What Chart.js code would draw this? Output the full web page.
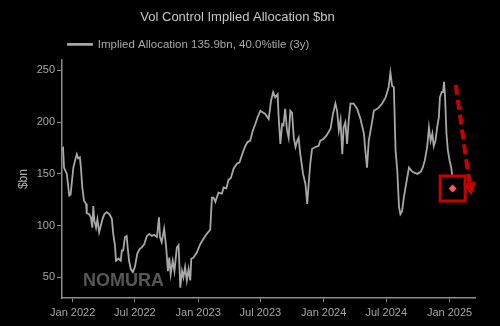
<!DOCTYPE html>
<html>
<head>
<meta charset="utf-8">
<script src="https://cdn.jsdelivr.net/npm/chart.js@4.4.1/dist/chart.umd.min.js"></script>
<style>
  html, body { margin: 0; padding: 0; background: #000; }
  #wrap { width: 500px; height: 326px; }
</style>
</head>
<body>
<div id="wrap"><canvas id="vol-control"></canvas></div>
<script>
const dates = [
  '2021-12-01','2021-12-04','2021-12-07','2021-12-15','2021-12-22','2021-12-26','2022-01-03','2022-01-08',
  '2022-01-13','2022-01-17','2022-01-22','2022-01-25','2022-01-29','2022-02-03','2022-02-09','2022-02-11',
  '2022-02-18','2022-02-23','2022-02-27','2022-03-02','2022-03-05','2022-03-10','2022-03-14','2022-03-19',
  '2022-03-24','2022-03-29','2022-04-03','2022-04-10','2022-04-18','2022-04-25','2022-04-29','2022-05-04',
  '2022-05-07','2022-05-14','2022-05-21','2022-05-24','2022-05-28','2022-06-02','2022-06-07','2022-06-10',
  '2022-06-14','2022-06-19','2022-06-25','2022-07-01','2022-07-08','2022-07-14','2022-07-21','2022-07-28',
  '2022-08-05','2022-08-12','2022-08-19','2022-08-26','2022-09-03','2022-09-09','2022-09-12','2022-09-17',
  '2022-09-24','2022-09-30','2022-10-05','2022-10-09','2022-10-13','2022-10-19','2022-10-24','2022-10-31',
  '2022-11-05','2022-11-10','2022-11-15','2022-11-19','2022-11-24','2022-11-29','2022-12-04','2022-12-09',
  '2022-12-12','2022-12-18','2022-12-28','2023-01-07','2023-01-16','2023-01-26','2023-02-05','2023-02-10',
  '2023-02-15','2023-02-20','2023-03-01','2023-03-11','2023-03-16','2023-03-24','2023-03-30','2023-04-06',
  '2023-04-14','2023-04-24','2023-05-01','2023-05-08','2023-05-18','2023-05-25','2023-06-01','2023-06-09',
  '2023-06-16','2023-06-23','2023-07-01','2023-07-15','2023-07-25','2023-08-01','2023-08-07','2023-08-13',
  '2023-08-20','2023-08-23','2023-08-28','2023-09-02','2023-09-06','2023-09-11','2023-09-16','2023-09-21',
  '2023-09-26','2023-10-01','2023-10-06','2023-10-11','2023-10-16','2023-10-20','2023-10-25','2023-11-02',
  '2023-11-09','2023-11-14','2023-11-18','2023-11-23','2023-11-28','2023-12-08','2023-12-17','2023-12-22',
  '2024-01-01','2024-01-09','2024-01-21','2024-01-28','2024-02-04','2024-02-09','2024-02-14','2024-02-19',
  '2024-02-24','2024-02-28','2024-03-04','2024-03-09','2024-03-14','2024-03-19','2024-03-28','2024-04-07',
  '2024-04-17','2024-04-27','2024-05-01','2024-05-06','2024-05-11','2024-05-18','2024-05-26','2024-06-09',
  '2024-06-19','2024-06-29','2024-07-08','2024-07-13','2024-07-18','2024-07-23','2024-07-28','2024-08-02',
  '2024-08-07','2024-08-11','2024-08-16','2024-08-21','2024-08-26','2024-09-05','2024-09-15','2024-09-29',
  '2024-10-09','2024-10-15','2024-10-21','2024-10-28','2024-11-02','2024-11-07','2024-11-12','2024-11-16',
  '2024-11-21','2024-11-26','2024-12-01','2024-12-04','2024-12-09','2024-12-13','2024-12-16','2024-12-19',
  '2024-12-23','2024-12-27','2025-01-01','2025-01-06','2025-01-09'
];

const allocation = [
  174, 175, 156, 150, 129, 130, 156, 163,
  169, 165, 166, 156, 137, 124, 121, 112,
  111, 108, 98, 119, 105, 98, 106, 93.5,
  100, 106.5, 111, 113, 111, 106.5, 92, 81,
  66, 68, 66, 76, 76, 89, 90, 79,
  66, 58, 55, 60, 73, 77, 79, 82,
  90, 92, 90, 91, 89, 108, 89, 84,
  97, 79, 56, 69, 53, 66, 56, 79,
  81, 40, 56, 50, 60, 47, 58, 47,
  68, 69, 74, 82, 87, 92, 96, 127,
  127, 123, 132, 131, 137, 136, 144, 146,
  155, 160, 161, 168, 177, 181, 182, 192,
  198, 205, 211, 208, 203, 221, 229, 224,
  227, 205, 179, 198, 197, 213, 193, 185,
  211, 209, 185, 176, 182, 185, 169, 150,
  140, 121, 139, 160, 174, 176, 177, 182,
  184, 187, 194, 208, 218, 211, 192, 202,
  169, 195, 200, 179, 203, 218, 218, 213,
  203, 189, 173, 156, 182, 195, 211, 214,
  218, 224, 234, 248, 235, 234, 173, 153,
  118, 111, 114, 127, 137, 156, 152, 150,
  152, 156, 163, 176, 195, 182, 189, 177,
  182, 195, 205, 224, 229, 229, 239, 224,
  189, 173, 163, 156, 148
];

// latest reading, drawn as the diamond
const last_date = '2025-01-10';
const last_value = 135.9;

const x_ticks = ['2022-01-01', '2022-07-01', '2023-01-01', '2023-07-01', '2024-01-01', '2024-07-01', '2025-01-01'];
const x_tick_labels = ['Jan 2022', 'Jul 2022', 'Jan 2023', 'Jul 2023', 'Jan 2024', 'Jul 2024', 'Jan 2025'];
const y_ticks = [50, 100, 150, 200, 250];

// red dashed arrow, start and tip in data units
const arrow_from = ['2025-01-19', 236];
const arrow_to = ['2025-03-05', 129];

const ts = s => new Date(s + 'T00:00:00Z').getTime();

const markup = {
  id: 'markup',
  beforeDatasetsDraw(chart) {
    const {ctx, chartArea} = chart;
    ctx.save();
    ctx.fillStyle = '#575757';
    ctx.font = 'bold 18px "Liberation Sans", Arial, sans-serif';
    ctx.textBaseline = 'alphabetic';
    ctx.fillText('NOMURA', chartArea.left + 21, chartArea.bottom - 12);
    ctx.restore();
  },
  afterDatasetsDraw(chart) {
    const {ctx, scales: {x, y}} = chart;
    ctx.save();
    // box round the latest point
    const px = x.getPixelForValue(ts(last_date));
    const py = y.getPixelForValue(last_value);
    ctx.strokeStyle = '#c80000';
    ctx.lineWidth = 3;
    ctx.strokeRect(px - 12.5, py - 12.5, 25, 25);

    // dashed arrow
    const x0 = x.getPixelForValue(ts(arrow_from[0])), y0 = y.getPixelForValue(arrow_from[1]);
    const x1 = x.getPixelForValue(ts(arrow_to[0])), y1 = y.getPixelForValue(arrow_to[1]);
    const ang = Math.atan2(y1 - y0, x1 - x0);
    const head = 13, half = 6.5;
    const bx = x1 - head * Math.cos(ang), by = y1 - head * Math.sin(ang);
    ctx.setLineDash([10, 5]);
    ctx.lineWidth = 4;
    ctx.beginPath();
    ctx.moveTo(x0, y0);
    ctx.lineTo(bx, by);
    ctx.stroke();
    ctx.setLineDash([]);
    ctx.fillStyle = '#c80000';
    ctx.beginPath();
    ctx.moveTo(x1, y1);
    ctx.lineTo(bx + half * Math.sin(ang), by - half * Math.cos(ang));
    ctx.lineTo(bx - half * Math.sin(ang), by + half * Math.cos(ang));
    ctx.closePath();
    ctx.fill();
    ctx.restore();
  }
};

const font_family = '"Liberation Sans", Arial, sans-serif';

new Chart(document.getElementById('vol-control'), {
  type: 'line',
  data: {
    datasets: [{
      label: 'Implied Allocation 135.9bn, 40.0%tile (3y)',
      data: dates.map((d, i) => ({x: ts(d), y: allocation[i]})),
      borderColor: '#a8a8a8',
      backgroundColor: '#a8a8a8',
      borderWidth: 1.8,
      pointRadius: 0,
      tension: 0
    }, {
      label: 'latest',
      data: [{x: ts(last_date), y: last_value}],
      showLine: false,
      pointStyle: 'rectRot',
      pointRadius: 4,
      backgroundColor: '#ff5a5a',
      borderColor: '#ff5a5a',
      borderWidth: 0
    }]
  },
  options: {
    responsive: true,
    maintainAspectRatio: false,
    animation: false,
    layout: { padding: { left: 0, right: 25, top: 0, bottom: 0 } },
    plugins: {
      title: {
        display: true,
        text: 'Vol Control Implied Allocation $bn',
        color: '#c8c8c8',
        font: { family: font_family, size: 13, weight: 'normal' },
        padding: { top: 10, bottom: 7 }
      },
      legend: {
        display: true,
        align: 'start',
        fullSize: false,
        labels: {
          color: '#a8a8a8',
          font: { family: font_family, size: 11.5 },
          boxWidth: 24,
          boxHeight: 1,
          padding: 6,
          filter: item => item.datasetIndex === 0
        }
      },
      tooltip: { enabled: false }
    },
    scales: {
      x: {
        type: 'linear',
        min: ts('2021-12-01'),
        max: ts('2025-03-16'),
        afterFit: scale => { scale.height = 28; },
        afterBuildTicks: scale => { scale.ticks = x_ticks.map(d => ({value: ts(d)})); },
        ticks: {
          color: '#a8a8a8',
          font: { family: font_family, size: 11 },
          padding: 4,
          maxRotation: 0,
          autoSkip: false,
          callback: (v, i) => x_tick_labels[i]
        },
        grid: { display: true, drawOnChartArea: false, drawTicks: true, tickLength: 4, color: '#8c8c8c' },
        border: { display: true, color: '#8c8c8c', width: 1.5 }
      },
      y: {
        min: 30,
        max: 260,
        afterFit: scale => { scale.width = 62; },
        afterBuildTicks: scale => { scale.ticks = y_ticks.map(v => ({value: v})); },
        ticks: {
          color: '#a8a8a8',
          font: { family: font_family, size: 11 },
          padding: 2
        },
        grid: { display: true, drawOnChartArea: false, drawTicks: true, tickLength: 5, color: '#8c8c8c' },
        border: { display: true, color: '#8c8c8c', width: 1.5 },
        title: {
          display: true,
          text: '$bn',
          color: '#b0b0b0',
          font: { family: font_family, size: 12 },
          padding: { top: 16, bottom: 0 }
        }
      }
    }
  },
  plugins: [markup]
});
</script>
</body>
</html>
